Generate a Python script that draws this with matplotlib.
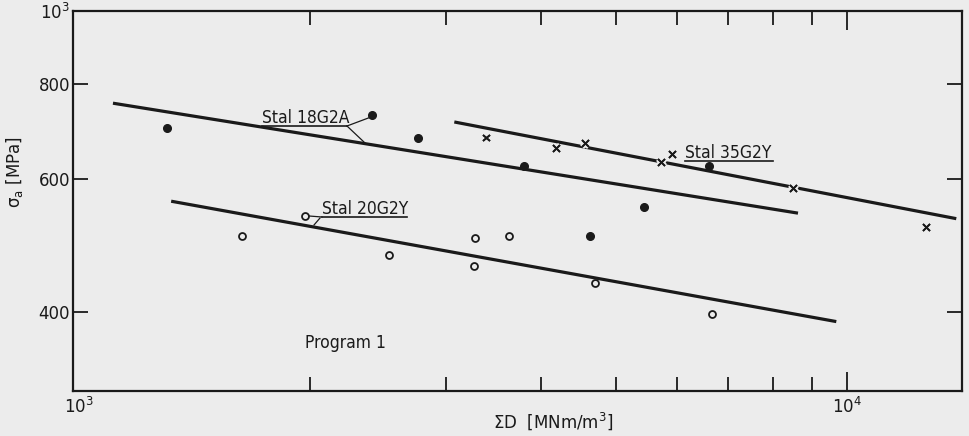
import matplotlib.pyplot as plt
import matplotlib.patheffects as pe
from matplotlib.ticker import FixedLocator, NullFormatter, NullLocator

bg = '#ececec'
ink = '#1a1a1a'

# Stal 18G2A - filled dots
x_18g2a = [1300, 2410, 2760, 3790, 4630, 5440, 6610]
y_18g2a = [700, 728, 679, 623, 504, 551, 623]
fit_18g2a_x = [1107, 8630]
fit_18g2a_y = [755, 540]

# Stal 35G2Y - crosses
x_35g2y = [3390, 4180, 4560, 5740, 5920, 8510, 12670]
y_35g2y = [679, 658, 668, 631, 646, 582, 517]
fit_35g2y_x = [3080, 13870]
fit_35g2y_y = [713, 531]

# Stal 20G2Y - open circles
x_20g2y = [1630, 1970, 2530, 3280, 3630, 3270, 4700, 6670]
y_20g2y = [504, 536, 475, 501, 504, 459, 437, 397]
fit_20g2y_x = [1318, 9680]
fit_20g2y_y = [560, 388]

fig = plt.figure(figsize=(9.7, 4.36), dpi=100, facecolor=bg)
ax = fig.add_axes([73/970, 1 - 391/436, 889/970, 380/436], facecolor=bg)
ax.set_xscale('log')
ax.set_yscale('log')
ax.set_xlim(982, 14110)
ax.set_ylim(314, 1000)

# regression lines
ax.plot(fit_18g2a_x, fit_18g2a_y, color=ink, lw=2.3, solid_capstyle='butt')
ax.plot(fit_35g2y_x, fit_35g2y_y, color=ink, lw=2.3, solid_capstyle='butt')
ax.plot(fit_20g2y_x, fit_20g2y_y, color=ink, lw=2.3, solid_capstyle='butt')

# measured points
ax.plot(x_18g2a, y_18g2a, 'o', ms=5.5, color=ink, zorder=4)
ax.plot(x_35g2y, y_35g2y, 'x', ms=5, mew=1.3, color=ink, zorder=4,
        path_effects=[pe.withStroke(linewidth=4, foreground=bg), pe.Normal()])
ax.plot(x_20g2y, y_20g2y, 'o', ms=5, mew=1.3, mfc=bg, mec=ink, zorder=4)


def px_text(x, y, s):
    # pixel coords from top-left of the image, baseline at y
    fig.text(x / 970, 1 - y / 436, s, fontsize=12.5, color=ink,
             fontstretch='condensed', ha='left', va='baseline')


def px_line(xs, ys, lw=1.2):
    fig.add_artist(plt.Line2D([v / 970 for v in xs], [1 - v / 436 for v in ys],
                              color=ink, lw=lw, transform=fig.transFigure))


# labels with underline and leaders
px_text(262, 123, 'Stal 18G2A')
px_text(322, 214, 'Stal 20G2Y')
px_text(685, 158, 'Stal 35G2Y')
px_text(305, 348, 'Program 1')

px_line([262, 347], [126, 126])
px_line([347, 371], [126, 117], lw=0.9)
px_line([347, 365], [126, 143], lw=0.9)
px_line([322, 407], [217, 217])
px_line([309, 322], [216, 217], lw=0.9)
px_line([320, 314], [218, 225], lw=0.9)
px_line([685, 773], [161, 161])

# axes styling
for s in ax.spines.values():
    s.set_color(ink)
    s.set_linewidth(1.6)

ax.xaxis.set_major_locator(FixedLocator([1000, 10000]))
ax.xaxis.set_minor_locator(FixedLocator([2000, 3000, 4000, 5000, 6000, 7000, 8000, 9000]))
ax.xaxis.set_minor_formatter(NullFormatter())
ax.set_xticklabels(['$10^3$', '$10^4$'])
ax.yaxis.set_major_locator(FixedLocator([400, 600, 800, 1000]))
ax.yaxis.set_minor_locator(NullLocator())
ax.set_yticklabels(['400', '600', '800', '$10^3$'])

ax.tick_params(which='both', direction='in', top=True, right=True, color=ink,
               width=1.3, labelsize=12, labelcolor=ink, pad=4)
ax.tick_params(axis='x', which='major', length=14)
ax.tick_params(axis='x', which='minor', length=10)
ax.tick_params(axis='y', which='major', length=11, pad=2)

# no tick mark at 10^3 on x, only its label
first = ax.xaxis.get_major_ticks()[0]
first.tick1line.set_visible(False)
first.tick2line.set_visible(False)

ax.set_xlabel(r'$\Sigma$D  [MNm/m$^3$]', fontsize=12, color=ink)
ax.xaxis.set_label_coords((553 - 73) / 889, -(410 - 391) / 380)
ax.set_ylabel(r'$\mathregular{\sigma_a}$ [MPa]', fontsize=12, color=ink)
ax.yaxis.set_label_coords(-(73 - 25) / 889, (391 - 172) / 380)

fig.savefig('out.png', dpi=100, facecolor=bg)
